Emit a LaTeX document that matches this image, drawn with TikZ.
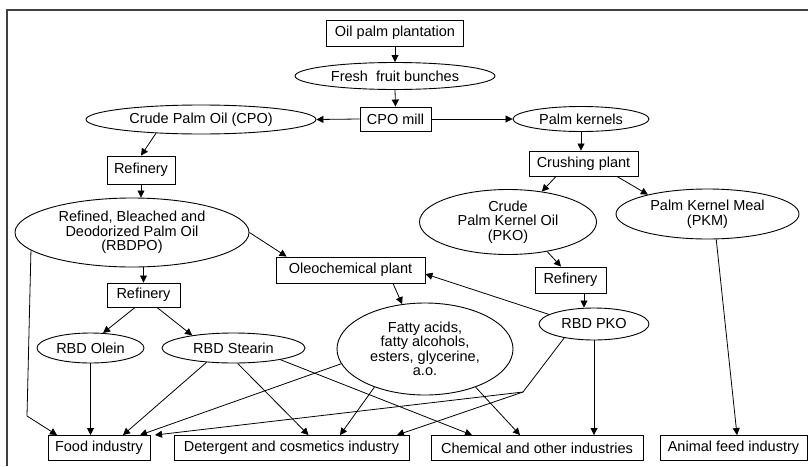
\documentclass[tikz,border=0pt]{standalone}
\usepackage{fontspec}
\setmainfont{Liberation Sans}
\usetikzlibrary{arrows.meta,shapes.geometric}
\begin{document}
\begin{tikzpicture}[x=1pt,y=-1pt,
  font=\fontsize{14.5}{14.5}\selectfont,
  box/.style={draw, line width=0.9pt, rectangle, inner sep=0pt, align=center, minimum height=25pt},
  ell/.style={draw, line width=0.9pt, ellipse, inner sep=0pt, align=center},
  arr/.style={draw, line width=0.8pt, -{Triangle[length=7pt,width=7pt]}}]
\useasboundingbox (0,0) rectangle (808,466);
\draw[line width=1.3pt, black!75] (7,466) -- (7,10) -- (808,10);
% nodes
\node[box, minimum width=137pt, minimum height=26pt] (opp) at (395,33) {Oil palm plantation};
\node[ell, minimum width=200pt, minimum height=27pt] (ffb) at (395,76) {Fresh\ \ fruit bunches};
\node[box, minimum width=71pt, minimum height=24pt] (mill) at (395.5,119) {CPO mill};
\node[ell, minimum width=230pt, minimum height=29pt] (cpo) at (201,119.5) {Crude Palm Oil (CPO)};
\node[ell, minimum width=136pt, minimum height=25pt] (pk) at (581,119) {Palm kernels};
\node[box, minimum width=68pt, minimum height=28pt] (ref1) at (141,170) {Refinery};
\node[box, minimum width=109pt, minimum height=25pt] (crush) at (583.5,163.5) {Crushing plant};
\node[ell, minimum width=234pt, minimum height=69pt] (rbdpo) at (132,232.5) {Refined, Bleached and\\Deodorized Palm Oil\\(RBDPO)};
\node[ell, minimum width=177pt, minimum height=65pt] (cpko) at (508,222) {Crude\\Palm Kernel Oil\\(PKO)};
\node[ell, minimum width=183pt, minimum height=50pt] (pkm) at (707.5,214) {Palm Kernel Meal\\(PKM)};
\node[box, minimum width=149pt, minimum height=26pt] (oleo) at (350.5,270) {Oleochemical plant};
\node[box, minimum width=73pt, minimum height=24pt] (ref2) at (143.5,295) {Refinery};
\node[box, minimum width=71pt, minimum height=26pt] (ref3) at (570.5,280) {Refinery};
\node[ell, minimum width=110pt, minimum height=32pt] (rbdpko) at (594,324) {RBD PKO};
\node[ell, minimum width=176pt, minimum height=92pt] (fatty) at (425,349) {Fatty acids,\\fatty alcohols,\\esters, glycerine,\\a.o.};
\node[ell, minimum width=107pt, minimum height=30pt] (olein) at (90.5,348) {RBD Olein};
\node[ell, minimum width=143pt, minimum height=30pt] (stearin) at (233.5,348) {RBD Stearin};
\node[box, minimum width=102pt] (food) at (99,448) {Food industry};
\node[box, minimum width=235pt] (det) at (291.5,448) {Detergent and cosmetics industry};
\node[box, minimum width=212pt] (chem) at (537,448) {Chemical and other industries};
\node[box, minimum width=147pt] (feed) at (733.5,448) {Animal feed industry};
\coordinate (k1) at (27,416);
\coordinate (k2) at (523,392);
% connectors
\draw[arr] (opp.south) -- (ffb.north);
\draw[arr] (ffb.south) -- (mill.north);
\draw[arr] (mill.west) -- (cpo.east);
\draw[arr] (mill.east) -- (pk.west);
\draw[arr] (cpo.197) -- (ref1.north);
\draw[arr] (ref1.south) -- (ref1.south |- rbdpo.north);
\draw[arr] (rbdpo.east) -- ([xshift=11pt]oleo.north west);
\draw[arr] (ref2.north |- rbdpo.south) -- (ref2.north);
\draw[arr] (rbdpo.190) -- (k1) -- ([xshift=-42pt]food.north);
\draw[arr] ([xshift=-8.5pt]ref2.south) -- (olein.50);
\draw[arr] ([xshift=13.5pt]ref2.south) -- (stearin.163);
\draw[arr] (olein.south) -- (olein.south |- food.north);
\draw[arr] (stearin.208) -- ([xshift=24pt]food.north);
\draw[arr] (stearin.285) -- ([xshift=17pt]det.north);
\draw[arr] (stearin.346) -- ([xshift=-65pt]chem.north);
\draw[arr] (fatty.190) -- ([xshift=41pt]food.north);
\draw[arr] (fatty.217) -- ([xshift=48.5pt]det.north);
\draw[arr] (fatty.323) -- ([xshift=-17pt]chem.north);
\draw[arr] (rbdpko.205) -- (k2) -- ([xshift=56pt]food.north);
\draw[arr] (k2) -- ([xshift=105.5pt]det.north);
\draw[arr] (rbdpko.south) -- (rbdpko.south |- chem.north);
\draw[arr] (rbdpko.168) -- ([yshift=-4pt]oleo.east);
\draw[arr] ([xshift=42.5pt]oleo.south) -- (fatty.117);
\draw[arr] (cpko.323) -- ([xshift=-9.5pt]ref3.north);
\draw[arr] ([xshift=13.5pt]ref3.south) -- ([xshift=13.5pt]ref3.south |- rbdpko.north);
\draw[arr] ([xshift=-27.5pt]crush.south) -- (cpko.42);
\draw[arr] ([xshift=33.5pt]crush.south) -- (pkm.162);
\draw[arr] (pkm.289) -- ([xshift=3.5pt]feed.north);
\draw[arr] (pk.south) -- (pk.south |- crush.north);
\end{tikzpicture}
\end{document}
